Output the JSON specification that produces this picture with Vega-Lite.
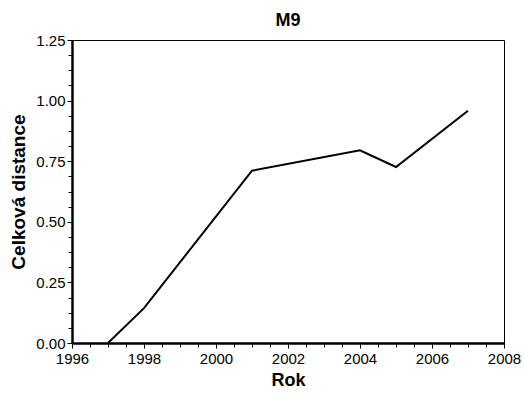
{
  "$schema": "https://vega.github.io/schema/vega-lite/v6.json",
  "width": 432,
  "height": 303,
  "autosize": {"type": "none"},
  "padding": {"left": 72, "top": 40, "right": 20, "bottom": 51},
  "background": "white",
  "config": {
    "font": "Liberation Sans",
    "view": {"stroke": "black", "strokeWidth": 1},
    "axis": {"grid": false, "labelColor": "black", "titleColor": "black", "tickColor": "black", "domainColor": "black"}
  },
  "title": {"text": "M9", "fontSize": 18, "fontWeight": "bold", "font": "Liberation Sans", "color": "black", "offset": 3},
  "data": {"values": [
    {"Rok": 1997, "d": 0.0},
    {"Rok": 1998, "d": 0.144},
    {"Rok": 2001, "d": 0.711},
    {"Rok": 2004, "d": 0.795},
    {"Rok": 2005, "d": 0.726},
    {"Rok": 2007, "d": 0.958}
  ]},
  "layer": [
    {
      "mark": {"type": "line", "strokeOpacity": 0},
      "encoding": {
        "x": {"field": "Rok", "type": "quantitative", "scale": {"domain": [1996, 2008], "nice": false, "zero": false},
          "axis": {"orient": "bottom", "values": [1996.5, 1997, 1997.5, 1998.5, 1999, 1999.5, 2000.5, 2001, 2001.5, 2002.5, 2003, 2003.5, 2004.5, 2005, 2005.5, 2006.5, 2007, 2007.5], "labels": false, "domain": false, "tickSize": 4, "tickWidth": 1, "title": null}},
        "y": {"field": "d", "type": "quantitative", "scale": {"domain": [0, 1.25], "nice": false},
          "axis": {"orient": "left", "values": [0.0625, 0.125, 0.1875, 0.3125, 0.375, 0.4375, 0.5625, 0.625, 0.6875, 0.8125, 0.875, 0.9375, 1.0625, 1.125, 1.1875], "labels": false, "domain": false, "tickSize": 4, "tickWidth": 1, "title": null}}
      }
    },
    {
      "mark": {"type": "line", "color": "black", "strokeWidth": 2},
      "encoding": {
        "x": {"field": "Rok", "type": "quantitative", "scale": {"domain": [1996, 2008], "nice": false, "zero": false},
          "axis": {"orient": "bottom", "values": [1996, 1998, 2000, 2002, 2004, 2006, 2008], "format": "d", "labelFontSize": 15, "labelPadding": 3, "tickSize": 5, "tickWidth": 1, "domainWidth": 2.5, "title": "Rok", "titleFontSize": 18, "titleFontWeight": "bold", "titlePadding": 5, "labelFlush": false}},
        "y": {"field": "d", "type": "quantitative", "scale": {"domain": [0, 1.25], "nice": false},
          "axis": {"orient": "left", "values": [0, 0.25, 0.5, 0.75, 1.0, 1.25], "format": ".2f", "labelFontSize": 15, "labelPadding": 2, "tickSize": 5, "tickWidth": 1, "domainWidth": 2.5, "title": "Celková distance", "titleFontSize": 19, "titleFontWeight": "bold", "titlePadding": 7, "labelFlush": false}}
      }
    }
  ],
  "resolve": {"axis": {"x": "independent", "y": "independent"}}
}
